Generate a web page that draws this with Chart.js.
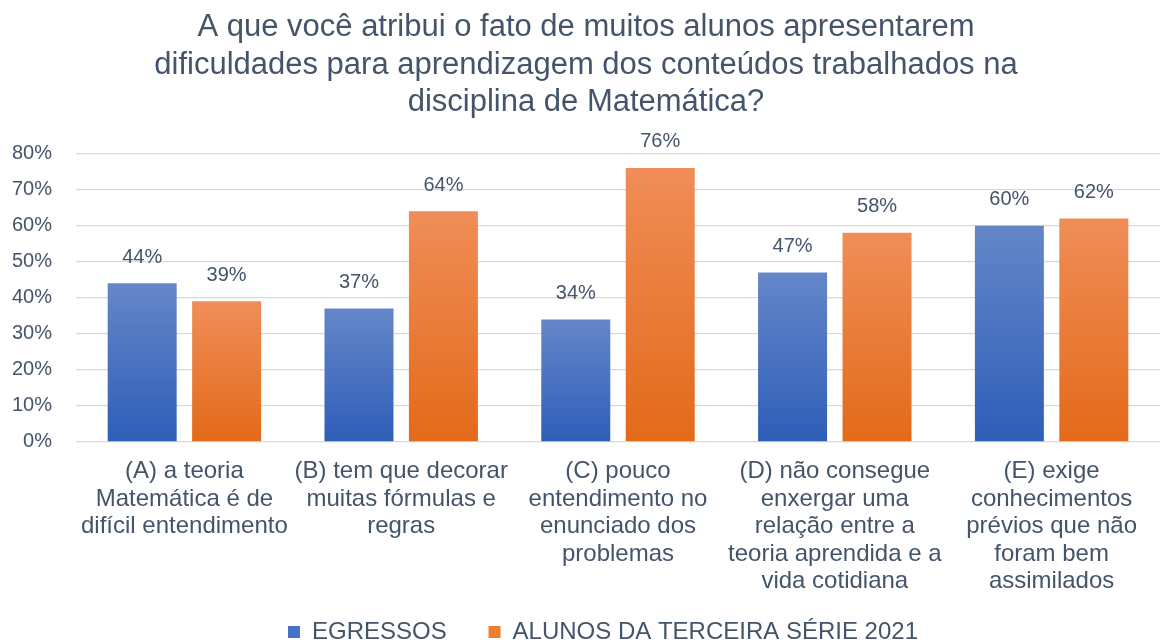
<!DOCTYPE html>
<html>
<head>
<meta charset="utf-8">
<script src="https://cdn.jsdelivr.net/npm/chart.js@4.4.0/dist/chart.umd.min.js"></script>
<style>
html,body{margin:0;padding:0;background:#fff;overflow:hidden;}
#wrap{width:1163px;height:654px;position:relative;}
</style>
</head>
<body>
<div id="wrap"><canvas id="c"></canvas></div>
<script>
const titleLines = [
  "A que você atribui o fato de muitos alunos apresentarem",
  "dificuldades para aprendizagem dos conteúdos trabalhados na",
  "disciplina de Matemática?"
];
const categories = [
  ["(A) a teoria", "Matemática é de", "difícil entendimento"],
  ["(B) tem que decorar", "muitas fórmulas e", "regras"],
  ["(C) pouco", "entendimento no", "enunciado dos", "problemas"],
  ["(D) não consegue", "enxergar uma", "relação entre a", "teoria aprendida e a", "vida cotidiana"],
  ["(E) exige", "conhecimentos", "prévios que não", "foram bem", "assimilados"]
];
const seriesNames = ["EGRESSOS", "ALUNOS DA TERCEIRA SÉRIE 2021"];
const egressos = [44, 37, 34, 47, 60];
const alunos2021 = [39, 64, 76, 58, 62];
const yTicks = [0, 10, 20, 30, 40, 50, 60, 70, 80];

const TEXT = "#44546a";
const FONT = "'Liberation Sans', Arial, sans-serif";
const solid = ["#4472c4", "#ed7d31"];
const grads = [["#6586c9", "#2e5eb8"], ["#f08d58", "#e36a19"]];

function barGradient(idx) {
  return function(ctx) {
    const chart = ctx.chart;
    if (!chart.chartArea || ctx.raw === undefined) return solid[idx];
    const y = chart.scales.y;
    const top = y.getPixelForValue(ctx.raw);
    const bottom = y.getPixelForValue(0);
    if (!isFinite(top) || !isFinite(bottom) || top === bottom) return solid[idx];
    const g = chart.ctx.createLinearGradient(0, top, 0, bottom);
    g.addColorStop(0, grads[idx][0]);
    g.addColorStop(1, grads[idx][1]);
    return g;
  };
}

const valueLabels = {
  id: 'valueLabels',
  afterDatasetsDraw(chart) {
    const ctx = chart.ctx;
    ctx.save();
    ctx.font = "20px " + FONT;
    ctx.fillStyle = TEXT;
    ctx.textAlign = 'center';
    ctx.textBaseline = 'middle';
    chart.data.datasets.forEach((ds, i) => {
      const meta = chart.getDatasetMeta(i);
      meta.data.forEach((el, j) => {
        ctx.fillText(ds.data[j] + '%', el.x, el.y - 26);
      });
    });
    ctx.restore();
  }
};

// nudge legend and title horizontally, as in the original figure
const boxShift = {
  id: 'boxShift',
  afterLayout(chart) {
    if (chart.legend) { chart.legend.left += 23; chart.legend.right += 23; }
    if (chart.titleBlock) { chart.titleBlock.left += 6; chart.titleBlock.right += 6; }
  }
};

new Chart(document.getElementById('c'), {
  type: 'bar',
  data: {
    labels: categories,
    datasets: [
      { label: seriesNames[0], data: egressos, backgroundColor: barGradient(0), borderWidth: 0 },
      { label: seriesNames[1], data: alunos2021, backgroundColor: barGradient(1), borderWidth: 0 }
    ]
  },
  options: {
    responsive: true,
    maintainAspectRatio: false,
    animation: false,
    layout: { padding: { left: 0, right: 3, top: 0, bottom: 0 } },
    datasets: { bar: { categoryPercentage: 0.779, barPercentage: 0.817 } },
    scales: {
      x: {
        grid: { display: false, drawTicks: false },
        border: { display: false },
        ticks: {
          color: TEXT, font: { family: FONT, size: 24, lineHeight: 1.146 },
          maxRotation: 0, minRotation: 0, autoSkip: false, padding: 16
        }
      },
      y: {
        min: 0, max: 80,
        afterBuildTicks(axis) { axis.ticks = yTicks.map(v => ({ value: v })); },
        afterFit(axis) { axis.width = 76; },
        grid: { color: "#d9d9d9", lineWidth: 1.3, drawTicks: false },
        border: { display: false },
        ticks: {
          color: TEXT, font: { family: FONT, size: 20 }, padding: 24,
          callback: v => v + '%'
        }
      }
    },
    plugins: {
      title: {
        display: true, text: titleLines, color: TEXT,
        font: { family: FONT, size: 31, weight: 'normal', lineHeight: 1.21 },
        padding: { top: 9, bottom: 32 }
      },
      legend: {
        position: 'bottom',
        labels: {
          color: TEXT, font: { family: FONT, size: 24 },
          boxWidth: 12, boxHeight: 12, padding: 8.5,
          generateLabels(chart) {
            return chart.data.datasets.map((ds, i) => ({
              text: i === 0 ? ds.label + '     ' : ds.label,
              fillStyle: solid[i], strokeStyle: solid[i],
              lineWidth: 0, hidden: false, datasetIndex: i, fontColor: TEXT
            }));
          }
        }
      },
      tooltip: { enabled: false }
    }
  },
  plugins: [valueLabels, boxShift]
});
</script>
</body>
</html>
